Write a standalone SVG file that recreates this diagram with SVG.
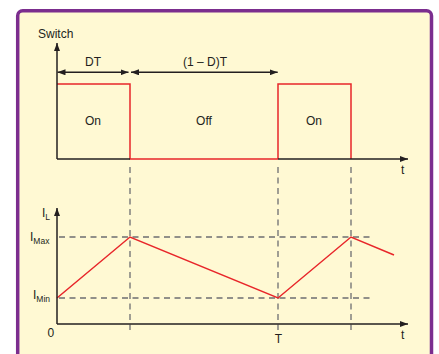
<svg xmlns="http://www.w3.org/2000/svg" width="439" height="354" viewBox="0 0 439 354">
<style>
text{font-family:"Liberation Sans",Arial,sans-serif;font-size:12px;fill:#231f20}
.ax{stroke:#231f20;stroke-width:1.5;fill:none}
.dash{stroke:#6d6e71;stroke-width:1.3;stroke-dasharray:6 4.5;fill:none}
.red{stroke:#e8262a;stroke-width:1.5;fill:none}
.sub{font-size:8.5px}
</style>
<defs>
<marker id="ah" viewBox="0 0 8 6" refX="8" refY="3" markerWidth="8" markerHeight="6" markerUnits="userSpaceOnUse" orient="auto-start-reverse">
<path d="M0,0 L8,3 L0,6 Z" fill="#231f20"/>
</marker>
</defs>
<rect x="0" y="0" width="439" height="354" fill="#ffffff"/>
<rect id="frame" x="17.7" y="10.7" width="413.8" height="360" rx="5" fill="#fff9d3" stroke="#7b2d8e" stroke-width="3.5"/>
<g id="connectors">
<line class="dash" x1="130" y1="167" x2="130" y2="330"/>
<line class="dash" x1="278" y1="167" x2="278" y2="330"/>
<line class="dash" x1="351" y1="167" x2="351" y2="330"/>
<line class="dash" x1="59" y1="237" x2="373" y2="237"/>
<line class="dash" x1="59" y1="298" x2="373" y2="298"/>
<polyline class="red" points="57,84 130,84 130,159 278,159"/>
<polyline class="red" points="278,159 278,84 351,84 351,159"/>
<polyline class="red" points="57,298 130,237 278,298 351,237 394,255"/>
<line class="ax" x1="57" y1="159" x2="57" y2="43" marker-end="url(#ah)"/>
<line class="ax" x1="57" y1="159" x2="130" y2="159"/>
<line class="ax" x1="278" y1="159" x2="408" y2="159" marker-end="url(#ah)"/>
<line class="ax" x1="57.5" y1="72.3" x2="128.5" y2="72.3" marker-start="url(#ah)" marker-end="url(#ah)"/>
<line class="ax" x1="131" y1="72.3" x2="277.7" y2="72.3" marker-start="url(#ah)" marker-end="url(#ah)"/>
<line class="ax" x1="57" y1="324" x2="57" y2="208" marker-end="url(#ah)"/>
<line class="ax" x1="57" y1="324" x2="408" y2="324" marker-end="url(#ah)"/>
</g>
<g id="labels">
<text x="38" y="38">Switch</text>
<text x="93" y="66" text-anchor="middle">DT</text>
<text x="205" y="66" text-anchor="middle">(1 – D)T</text>
<text x="93" y="125" text-anchor="middle">On</text>
<text x="204" y="125" text-anchor="middle">Off</text>
<text x="314" y="125" text-anchor="middle">On</text>
<text x="401" y="174">t</text>
<text x="42" y="217">I<tspan class="sub" dy="3">L</tspan></text>
<text x="30" y="241">I<tspan class="sub" dy="2.5">Max</tspan></text>
<text x="33" y="299">I<tspan class="sub" dy="3">Min</tspan></text>
<text x="47.5" y="337">0</text>
<text x="278.5" y="343" text-anchor="middle">T</text>
<text x="401" y="339">t</text>
</g>
</svg>
